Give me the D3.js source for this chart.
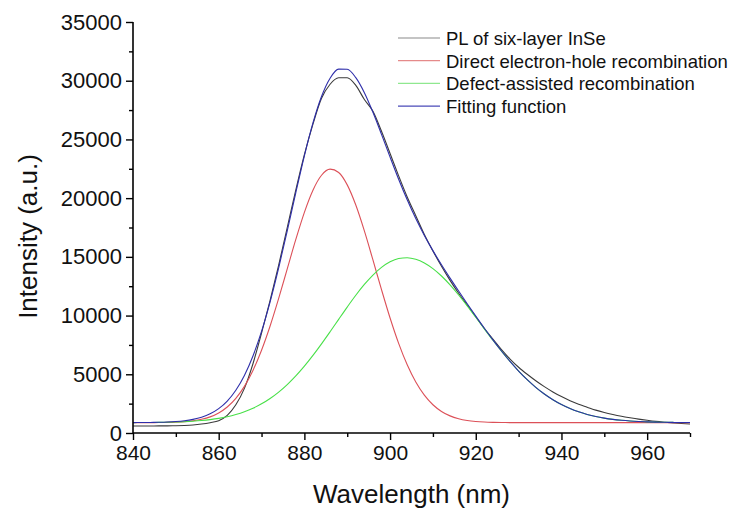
<!DOCTYPE html>
<html><head><meta charset="utf-8">
<script src="https://cdn.jsdelivr.net/npm/d3@7"></script>
<style>
body{margin:0;background:#fff;}
text{font-family:Arial,"Liberation Sans",sans-serif;}
</style></head>
<body><svg id="chart" width="746" height="513"></svg>
<script>
// Wavelength grid (nm)
const wavelengths = [840,842,844,846,848,850,852,854,856,858,860,862,864,866,868,870,872,874,876,878,880,882,884,886,888,890,892,894,896,898,900,902,904,906,908,910,912,914,916,918,920,922,924,926,928,930,932,934,936,938,940,942,944,946,948,950,952,954,956,958,960,962,964,966,968,970];
// PL of six-layer InSe (measured)
const plValues = [600,600,600,605,610,620,640,680,760,880,1050,1500,2400,3800,5900,8500,11300,14300,17500,20700,23700,26300,28500,29700,30250,30250,29600,28400,27400,25700,23800,21900,20100,18500,16900,15500,14200,13000,11900,10900,9900,8900,8000,7100,6300,5600,5000,4450,3950,3500,3100,2750,2450,2200,1950,1750,1580,1430,1300,1180,1080,990,920,860,810,770];
// Direct electron-hole recombination
const directValues = [880,882,885,890,901,923,964,1038,1165,1373,1708,2213,2947,3971,5330,7048,9114,11462,13976,16486,18793,20677,21948,22470,22188,21130,19411,17210,14738,12205,9792,7632,5807,4342,3223,2407,1838,1458,1217,1069,982,933,907,893,886,880,880,880,880,880,880,880,880,880,880,880,880,880,880,880,880,880,880,880,880,880];
// Defect-assisted recombination
const defectValues = [886,890,895,904,917,936,964,1004,1060,1138,1243,1383,1569,1806,2108,2483,2940,3486,4127,4865,5694,6608,7590,8622,9678,10723,11727,12648,13453,14108,14584,14861,14930,14795,14483,14003,13370,12612,11753,10823,9854,8870,7901,6968,6088,5278,4543,3891,3322,2834,2424,2083,1806,1582,1405,1269,1163,1084,1024,981,950,928,912,901,894,889];
// Fitting function
const fitValues = [886,892,900,914,938,979,1048,1162,1345,1631,2071,2716,3636,4897,6558,8651,11174,14068,17223,20471,23607,26405,28658,30212,30986,30973,30258,28978,27311,25433,23496,21613,19857,18257,16826,15530,14328,13190,12090,11012,9956,8923,7928,6981,6094,5278,4543,3891,3322,2834,2424,2083,1806,1582,1405,1269,1163,1084,1024,981,950,928,912,901,894,889];

const xTicks = [840,860,880,900,920,940,960];
const yTicks = [0,5000,10000,15000,20000,25000,30000,35000];
const seriesNames = ["PL of six-layer InSe","Direct electron-hole recombination","Defect-assisted recombination","Fitting function"];
const seriesColors = ["#3a3a3a","#dc5058","#48e048","#2e2eaa"];
const legendColors = ["#8a8a8a","#e58a8a","#8fe88f","#4a4ab8"];

const series = [plValues, directValues, defectValues, fitValues];

const svg = d3.select("#chart");
const margin = {left:133, top:22, right:56, bottom:80};
const W = 746, H = 513;
const x = d3.scaleLinear().domain([840,970]).range([margin.left, W - margin.right]);
const y = d3.scaleLinear().domain([0,35000]).range([H - margin.bottom, margin.top]);

const line = d3.line().x((d,i)=>x(wavelengths[i])).y(d=>y(d)).curve(d3.curveMonotoneX);
series.forEach((vals,k)=>{
  svg.append("path").datum(vals).attr("d",line)
    .attr("fill","none").attr("stroke",seriesColors[k]).attr("stroke-width",1.1);
});

const xAxis = d3.axisBottom(x).tickValues(xTicks).tickFormat(d3.format("d")).tickSize(7).tickPadding(5);
const xMinor = d3.axisBottom(x).tickValues(d3.range(850,971,20)).tickFormat("").tickSize(4);
const yAxis = d3.axisLeft(y).tickValues(yTicks).tickFormat(d3.format("d")).tickSize(7).tickPadding(4);
const yMinor = d3.axisLeft(y).tickValues(d3.range(2500,35000,5000)).tickFormat("").tickSize(4);

const gx = svg.append("g").attr("transform",`translate(0,${H-margin.bottom})`).call(xAxis);
svg.append("g").attr("transform",`translate(0,${H-margin.bottom})`).call(xMinor).select(".domain").remove();
const gy = svg.append("g").attr("transform",`translate(${margin.left},0)`).call(yAxis);
svg.append("g").attr("transform",`translate(${margin.left},0)`).call(yMinor).select(".domain").remove();

[gx,gy].forEach(g=>{
  g.select(".domain").attr("stroke","#000").attr("stroke-width",1.6);
  g.selectAll(".tick text").attr("fill","#111").attr("font-family",null);
});
gx.selectAll(".tick text").style("font-size","21px");
gy.selectAll(".tick text").style("font-size","22px");
svg.selectAll(".tick line").attr("stroke","#000").attr("stroke-width",1.4);
gx.selectAll(".domain").attr("d",`M${margin.left},0H${W-margin.right}`);
gy.selectAll(".domain").attr("d",`M0,${H-margin.bottom}V${margin.top}`);

svg.append("text").attr("x",(margin.left + W - margin.right)/2).attr("y",503)
  .attr("text-anchor","middle").style("font-size","26px").attr("fill","#111").text("Wavelength (nm)");
svg.append("text").attr("transform",`translate(37,${(margin.top + H - margin.bottom)/2 + 9}) rotate(-90)`)
  .attr("text-anchor","middle").style("font-size","26px").attr("fill","#111").text("Intensity (a.u.)");

const lg = svg.append("g");
seriesNames.forEach((name,i)=>{
  const yy = 38 + i*22.7;
  lg.append("line").attr("x1",398).attr("x2",440).attr("y1",yy).attr("y2",yy)
    .attr("stroke",legendColors[i]).attr("stroke-width",1.2);
  lg.append("text").attr("x",446).attr("y",yy+7).style("font-size","18.5px").attr("fill","#111").text(name);
});
</script></body></html>
